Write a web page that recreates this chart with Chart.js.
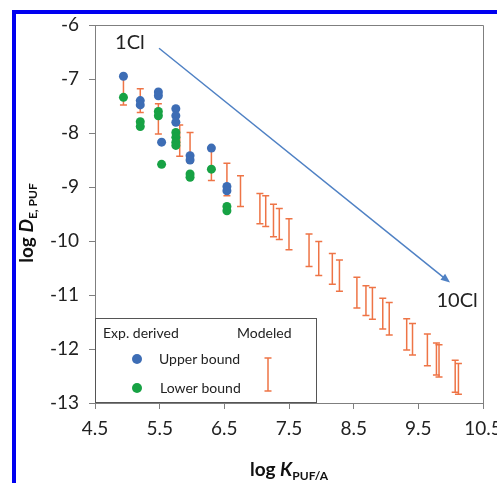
<!DOCTYPE html>
<html>
<head>
<meta charset="utf-8">
<script src="https://cdn.jsdelivr.net/npm/chart.js@4.4.0/dist/chart.umd.min.js"></script>
<style>
  html, body { margin: 0; padding: 0; background: #fff; }
  #frame {
    position: absolute; left: 12px; top: 10px; right: 0; bottom: 0;
    border-left: 4px solid #0000f0; border-top: 4px solid #0000f0;
  }
  #myChart { position: absolute; left: 0; top: 0; }
</style>
</head>
<body>
<div id="frame"></div>
<canvas id="myChart" width="497" height="483"></canvas>
<script>
// experimentally derived bounds (log K, log D)
const upperX = [4.94, 5.20, 5.20, 5.48, 5.48, 5.53, 5.75, 5.75, 5.75, 5.97, 5.97, 6.30, 6.54, 6.54];
const upperY = [-6.95, -7.40, -7.48, -7.24, -7.31, -8.17, -7.55, -7.68, -7.80, -8.42, -8.50, -8.28, -8.99, -9.07];
const lowerX = [4.94, 5.20, 5.20, 5.48, 5.48, 5.53, 5.75, 5.75, 5.75, 5.75, 5.97, 5.97, 6.30, 6.54, 6.54];
const lowerY = [-7.34, -7.79, -7.88, -7.60, -7.68, -8.58, -7.99, -8.08, -8.17, -8.23, -8.76, -8.82, -8.67, -9.36, -9.44];

// modeled ranges
const modeledX = [4.94, 5.20, 5.48, 5.81, 5.97, 6.30, 6.54, 6.75, 7.05, 7.14, 7.26, 7.35, 7.50, 7.81, 7.96,
  8.17, 8.28, 8.55, 8.69, 8.79, 8.95, 9.05, 9.32, 9.41, 9.64, 9.78, 9.82, 10.07, 10.12];
const modeledHigh = [-6.98, -7.18, -7.46, -7.85, -7.99, -8.32, -8.56, -8.79, -9.12, -9.16, -9.32, -9.40, -9.59, -9.87, -10.01,
  -10.23, -10.35, -10.67, -10.83, -10.86, -11.06, -11.14, -11.44, -11.53, -11.72, -11.89, -11.92, -12.21, -12.27];
const modeledLow = [-7.48, -7.62, -8.02, -8.43, -8.54, -8.88, -9.16, -9.36, -9.68, -9.73, -9.92, -9.97, -10.16, -10.47, -10.64,
  -10.80, -10.93, -11.24, -11.38, -11.45, -11.63, -11.74, -12.02, -12.11, -12.31, -12.48, -12.52, -12.80, -12.84];

const xTicks = [4.5, 5.5, 6.5, 7.5, 8.5, 9.5, 10.5];
const yTicks = [-13, -12, -11, -10, -9, -8, -7, -6];

// arrow from 1Cl to 10Cl
const arrowFrom = [5.49, -6.43];
const arrowTo = [9.99, -10.77];

const FONT = 'Lato, "Open Sans", sans-serif';
const BLUE = '#3d6db5';
const GREEN = '#17a244';
const ORANGE = '#ee7446';
const AXIS = '#7f7f7f';

function pts(xs, ys) {
  return xs.map((x, i) => ({ x: x, y: ys[i] }));
}

function ibar(ctx, x, y1, y2) {
  ctx.beginPath();
  ctx.moveTo(x, y1); ctx.lineTo(x, y2);
  ctx.moveTo(x - 3.5, y1); ctx.lineTo(x + 3.5, y1);
  ctx.moveTo(x - 3.5, y2); ctx.lineTo(x + 3.5, y2);
  ctx.stroke();
}

// draws runs of [text, font, dy] left to right from x
function runs(ctx, parts, x, y) {
  parts.forEach(p => {
    ctx.font = p[1];
    ctx.fillText(p[0], x, y + (p[2] || 0));
    x += ctx.measureText(p[0]).width;
  });
}
function runsWidth(ctx, parts) {
  let w = 0;
  parts.forEach(p => { ctx.font = p[1]; w += ctx.measureText(p[0]).width; });
  return w;
}

const errorBars = {
  id: 'errorBars',
  beforeDatasetsDraw(chart) {
    const { ctx, scales: { x, y } } = chart;
    ctx.save();
    ctx.strokeStyle = ORANGE;
    ctx.lineWidth = 1.5;
    modeledX.forEach((v, i) => {
      ibar(ctx, x.getPixelForValue(v), y.getPixelForValue(modeledHigh[i]), y.getPixelForValue(modeledLow[i]));
    });
    ctx.restore();
  }
};

const extras = {
  id: 'extras',
  afterDraw(chart) {
    const { ctx, chartArea: a, scales: { x, y } } = chart;
    ctx.save();

    // top and right frame of the plot
    ctx.strokeStyle = AXIS;
    ctx.lineWidth = 1;
    ctx.beginPath();
    ctx.moveTo(a.left, a.top + 0.5); ctx.lineTo(a.right + 0.5, a.top + 0.5); ctx.lineTo(a.right + 0.5, a.bottom);
    ctx.stroke();

    // arrow
    const x1 = x.getPixelForValue(arrowFrom[0]), y1 = y.getPixelForValue(arrowFrom[1]);
    const x2 = x.getPixelForValue(arrowTo[0]), y2 = y.getPixelForValue(arrowTo[1]);
    const ang = Math.atan2(y2 - y1, x2 - x1);
    ctx.strokeStyle = '#4f81c4';
    ctx.fillStyle = '#4f81c4';
    ctx.lineWidth = 1.5;
    ctx.beginPath();
    ctx.moveTo(x1, y1);
    ctx.lineTo(x2 - 6 * Math.cos(ang), y2 - 6 * Math.sin(ang));
    ctx.stroke();
    ctx.beginPath();
    ctx.moveTo(x2, y2);
    ctx.lineTo(x2 - 10 * Math.cos(ang - 0.38), y2 - 10 * Math.sin(ang - 0.38));
    ctx.lineTo(x2 - 10 * Math.cos(ang + 0.38), y2 - 10 * Math.sin(ang + 0.38));
    ctx.closePath();
    ctx.fill();

    // end labels
    ctx.fillStyle = '#222';
    ctx.font = '20px ' + FONT;
    ctx.textAlign = 'center';
    ctx.textBaseline = 'middle';
    ctx.fillText('1Cl', x.getPixelForValue(5.04), y.getPixelForValue(-6.32));
    ctx.fillText('10Cl', x.getPixelForValue(10.10), y.getPixelForValue(-11.11));

    // legend box
    const lx = a.left, lb = a.bottom;
    ctx.fillStyle = '#fff';
    ctx.fillRect(lx + 1, lb - 84, 220, 83);
    ctx.strokeStyle = '#555';
    ctx.lineWidth = 1;
    ctx.strokeRect(lx + 0.5, lb - 84.5, 221, 84);
    ctx.fillStyle = '#222';
    ctx.font = '14px ' + FONT;
    ctx.textAlign = 'left';
    ctx.fillText('Exp. derived', lx + 8, lb - 70);
    ctx.fillText('Modeled', lx + 142, lb - 70);
    ctx.fillText('Upper bound', lx + 64, lb - 44);
    ctx.fillText('Lower bound', lx + 65, lb - 15);
    ctx.fillStyle = BLUE;
    ctx.beginPath(); ctx.arc(lx + 42, lb - 44, 5, 0, Math.PI * 2); ctx.fill();
    ctx.fillStyle = GREEN;
    ctx.beginPath(); ctx.arc(lx + 42, lb - 15, 5, 0, Math.PI * 2); ctx.fill();
    ctx.strokeStyle = ORANGE;
    ctx.lineWidth = 1.5;
    ibar(ctx, lx + 173, lb - 45, lb - 12);

    // axis titles
    ctx.fillStyle = '#111';
    ctx.textBaseline = 'alphabetic';
    const xt = [['log ', 'bold 19px ' + FONT], ['K', 'italic bold 19px ' + FONT], ['PUF/A', 'bold 12px ' + FONT, 4]];
    runs(ctx, xt, (a.left + a.right) / 2 - runsWidth(ctx, xt) / 2, 476);

    const yt = [['log ', 'bold 19px ' + FONT], ['D', 'italic bold 19px ' + FONT], ['E, PUF', 'bold 12px ' + FONT, 4]];
    ctx.translate(33, 223);
    ctx.rotate(-Math.PI / 2);
    runs(ctx, yt, -runsWidth(ctx, yt) / 2, 0);

    ctx.restore();
  }
};

const ctx = document.getElementById('myChart').getContext('2d');
const myChart = new Chart(ctx, {
  type: 'scatter',
  data: {
    datasets: [{
      label: 'Upper bound',
      data: pts(upperX, upperY),
      backgroundColor: BLUE,
      borderWidth: 0,
      pointRadius: 4.5
    }, {
      label: 'Lower bound',
      data: pts(lowerX, lowerY),
      backgroundColor: GREEN,
      borderWidth: 0,
      pointRadius: 4.5
    }]
  },
  options: {
    responsive: false,
    animation: false,
    layout: { padding: { top: 25, right: 14, left: 0, bottom: 0 } },
    plugins: { legend: { display: false }, tooltip: { enabled: false } },
    scales: {
      x: {
        type: 'linear',
        min: 4.5,
        max: 10.5,
        afterBuildTicks: s => { s.ticks = xTicks.map(v => ({ value: v })); },
        afterFit: s => { s.height = 80; s.paddingLeft = 0; s.paddingRight = 0; },
        ticks: { font: { family: FONT, size: 19 }, color: '#222', padding: 8, maxRotation: 0, callback: v => v.toFixed(1) },
        grid: { drawOnChartArea: false, tickLength: 6, color: AXIS },
        border: { color: AXIS }
      },
      y: {
        min: -13,
        max: -6,
        afterBuildTicks: s => { s.ticks = yTicks.map(v => ({ value: v })); },
        afterFit: s => { s.width = 95; s.paddingTop = 0; s.paddingBottom = 0; },
        ticks: { font: { family: FONT, size: 19 }, color: '#222', padding: 10, callback: v => String(v) },
        grid: { drawOnChartArea: false, tickLength: 6, color: AXIS },
        border: { color: AXIS }
      }
    }
  },
  plugins: [errorBars, extras]
});
</script>
</body>
</html>
